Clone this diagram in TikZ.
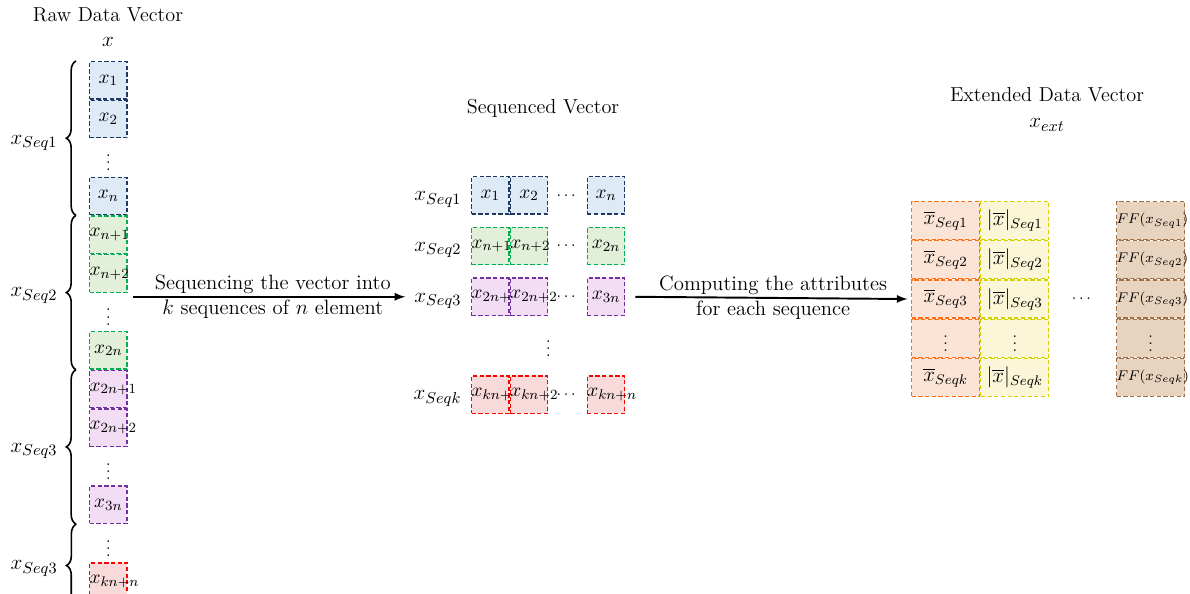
\documentclass[tikz,border=0pt]{standalone}
\usepackage{amssymb}
\usepackage{amsmath}
\usepackage{tikz}
\definecolor{blue_fill}{RGB}{222,235,247}
\definecolor{blue_line}{RGB}{32,56,100}
\definecolor{green_fill}{RGB}{226,240,217}
\definecolor{green_line}{RGB}{0,176,80}
\definecolor{purple_fill}{RGB}{242,221,245}
\definecolor{purple_line}{RGB}{112,48,160}
\definecolor{red_fill}{RGB}{248,218,218}
\definecolor{red_line}{RGB}{255,0,0}
\definecolor{orange_fill}{RGB}{251,228,214}
\definecolor{orange_line}{RGB}{255,110,20}
\definecolor{yellow_fill}{RGB}{250,246,215}
\definecolor{yellow_line}{RGB}{210,210,0}
\definecolor{brown_fill}{RGB}{232,211,190}
\definecolor{brown_line}{RGB}{160,112,72}
\tikzset{
  title_font/.style = {font=\fontsize{11.5}{14}\selectfont},
  seq_font/.style = {font=\fontsize{13}{15}\selectfont},
  cell_font/.style = {font=\fontsize{11}{13}\selectfont},
  dots_font/.style = {font=\small},
  arrow_font/.style = {font=\fontsize{11.8}{14}\selectfont}
}
\tikzset{
  slot/.style = {inner sep=0, text width=0.75cm, align=center, minimum width=0.75cm, minimum height=0.75cm},
  cell/.style = {slot, cell_font, draw, dash pattern=on 2.4pt off 1.4pt, line width=0.7pt},
  wide_cell/.style = {cell, font=\large, text width=1.36cm, minimum width=1.36cm, minimum height=0.76cm},
  blue_cell/.style = {cell, draw=blue_line, fill=blue_fill},
  green_cell/.style = {cell, draw=green_line, fill=green_fill},
  purple_cell/.style = {cell, draw=purple_line, fill=purple_fill},
  red_cell/.style = {cell, draw=red_line, fill=red_fill},
  orange_cell/.style = {wide_cell, draw=orange_line, fill=orange_fill},
  yellow_cell/.style = {wide_cell, draw=yellow_line, fill=yellow_fill},
  brown_cell/.style = {wide_cell, font=\footnotesize, draw=brown_line, fill=brown_fill},
  seq_label/.style = {seq_font, inner sep=1pt},
  brace_line/.style = {decorate, decoration={brace, amplitude=5.5pt}, line width=0.9pt},
  flow_arrow/.style = {-latex, line width=1.1pt}
}
\usetikzlibrary{arrows, positioning, calc, decorations.pathreplacing}

\begin{document}
\begin{tikzpicture}[x=0.02cm, y=-0.02cm, node distance=0]
    \useasboundingbox (0,0) rectangle (1190,594);

    % Titles
    \node[title_font] at (108,15) (t_raw) {Raw Data Vector};
    \node[seq_font] at (108,42) (t_x) {$x$};
    \node[title_font] at (543,108) (t_seq) {Sequenced Vector};
    \node[title_font] at (1047,95) (t_ext) {Extended Data Vector};
    \node[seq_font] at (1047,125) (t_xext) {$x_{ext}$};

    %Raw data vector
    \node[blue_cell, anchor=north west] at (89,61) (r_1) {$x_1$};
    \node[blue_cell, below=of r_1] (r_2) {$x_2$};
    \node[slot, dots_font, below=of r_2] (r_d1) {$\vdots$};
    \node[blue_cell, below=of r_d1] (r_n) {$x_n$};
    \node[green_cell, below=of r_n] (r_n1) {$x_{n+1}$};
    \node[green_cell, below=of r_n1] (r_n2) {$x_{n+2}$};
    \node[slot, dots_font, below=of r_n2] (r_d2) {$\vdots$};
    \node[green_cell, below=of r_d2] (r_2n) {$x_{2n}$};
    \node[purple_cell, below=of r_2n] (r_2n1) {$x_{2n+1}$};
    \node[purple_cell, below=of r_2n1] (r_2n2) {$x_{2n+2}$};
    \node[slot, dots_font, below=of r_2n2] (r_d3) {$\vdots$};
    \node[purple_cell, below=of r_d3] (r_3n) {$x_{3n}$};
    \node[slot, dots_font, below=of r_3n] (r_d4) {$\vdots$};
    \node[red_cell, below=of r_d4] (r_kn) {$x_{kn+n}$};

    \draw[brace_line] ([xshift=-0.26cm]r_n.south west) -- ([xshift=-0.26cm]r_1.north west)
        node[seq_label, midway, left=0.32cm, yshift=-0.1cm] (bl_1) {$x_{Seq1}$};
    \draw[brace_line] ([xshift=-0.26cm]r_2n.south west) -- ([xshift=-0.26cm]r_n1.north west)
        node[seq_label, midway, left=0.32cm, yshift=-0.06cm] (bl_2) {$x_{Seq2}$};
    \draw[brace_line] ([xshift=-0.26cm]r_3n.south west) -- ([xshift=-0.26cm]r_2n1.north west)
        node[seq_label, midway, left=0.32cm, yshift=-0.08cm] (bl_3) {$x_{Seq3}$};
    \draw[brace_line] ([xshift=-0.26cm, yshift=-0.12cm]r_kn.south west) -- ([xshift=-0.26cm]r_d4.north west)
        node[seq_label, midway, left=0.32cm, yshift=-0.06cm] (bl_4) {$x_{Seq3}$};

    %Sequenced vector
    \node[blue_cell, anchor=north west] at (471,176) (q_11) {$x_1$};
    \node[blue_cell, right=of q_11] (q_12) {$x_2$};
    \node[slot, dots_font, right=of q_12] (q_1d) {$\dots$};
    \node[blue_cell, right=of q_1d] (q_1n) {$x_n$};

    \node[green_cell, below=0.24cm of q_11] (q_21) {$x_{n+1}$};
    \node[green_cell, right=of q_21] (q_22) {$x_{n+2}$};
    \node[slot, dots_font, right=of q_22] (q_2d) {$\dots$};
    \node[green_cell, right=of q_2d] (q_2n) {$x_{2n}$};

    \node[purple_cell, below=0.24cm of q_21] (q_31) {$x_{2n+1}$};
    \node[purple_cell, right=of q_31] (q_32) {$x_{2n+2}$};
    \node[slot, dots_font, right=of q_32] (q_3d) {$\dots$};
    \node[purple_cell, right=of q_3d] (q_3n) {$x_{3n}$};

    \node[slot, dots_font, anchor=north] at ([yshift=-0.16cm]q_32.south east) (q_v) {$\vdots$};

    \node[red_cell, anchor=north] at ([yshift=-0.26cm]q_v.south -| q_31) (q_k1) {$x_{kn+1}$};
    \node[red_cell, right=of q_k1] (q_k2) {$x_{kn+2}$};
    \node[slot, dots_font, right=of q_k2] (q_kd) {$\dots$};
    \node[red_cell, right=of q_kd] (q_kn) {$x_{kn+n}$};

    \node[seq_label, left=0.15cm of q_11, yshift=-0.08cm] (ql_1) {$x_{Seq1}$};
    \node[seq_label, left=0.15cm of q_21, yshift=-0.08cm] (ql_2) {$x_{Seq2}$};
    \node[seq_label, left=0.15cm of q_31, yshift=-0.08cm] (ql_3) {$x_{Seq3}$};
    \node[seq_label, left=0.15cm of q_k1, yshift=-0.08cm] (ql_k) {$x_{Seqk}$};

    %Extended data vector
    \node[orange_cell, anchor=north west] at (911,201) (e_11) {$\overline{x}_{Seq1}$};
    \node[orange_cell, below=of e_11] (e_21) {$\overline{x}_{Seq2}$};
    \node[orange_cell, below=of e_21] (e_31) {$\overline{x}_{Seq3}$};
    \node[orange_cell, font=\small, below=of e_31] (e_d1) {$\vdots$};
    \node[orange_cell, below=of e_d1] (e_k1) {$\overline{x}_{Seqk}$};

    \node[yellow_cell, right=of e_11] (e_12) {$|\overline{x}|_{Seq1}$};
    \node[yellow_cell, below=of e_12] (e_22) {$|\overline{x}|_{Seq2}$};
    \node[yellow_cell, below=of e_22] (e_32) {$|\overline{x}|_{Seq3}$};
    \node[yellow_cell, font=\small, below=of e_32] (e_d2) {$\vdots$};
    \node[yellow_cell, below=of e_d2] (e_k2) {$|\overline{x}|_{Seqk}$};

    \node[brown_cell, anchor=north west] at (1116,201) (e_f1) {$FF(x_{Seq1})$};
    \node[brown_cell, below=of e_f1] (e_f2) {$FF(x_{Seq2})$};
    \node[brown_cell, below=of e_f2] (e_f3) {$FF(x_{Seq3})$};
    \node[brown_cell, font=\small, below=of e_f3] (e_fd) {$\vdots$};
    \node[brown_cell, below=of e_fd] (e_fk) {$FF(x_{Seqk})$};

    \node[dots_font] at ($(e_32.east)!0.5!(e_f3.west)$) (e_dots) {$\dots$};

    % Arrows and lines
    \draw[flow_arrow, shorten >=4pt] ([xshift=0.11cm]r_n2.east |- q_31.west) -- (ql_3.west |- q_31.west)
        node[arrow_font, midway, above, inner sep=1pt] (a_1t) {Sequencing the vector into}
        node[arrow_font, midway, below, inner sep=1pt] (a_1b) {$k$ sequences of $n$ element};
    \draw[flow_arrow, shorten >=2pt] ([xshift=0.2cm]q_3n.east) -- (e_31.west)
        node[arrow_font, midway, above, inner sep=1pt] (a_2t) {Computing the attributes}
        node[arrow_font, midway, below, inner sep=1pt] (a_2b) {for each sequence};
\end{tikzpicture}
\end{document}
